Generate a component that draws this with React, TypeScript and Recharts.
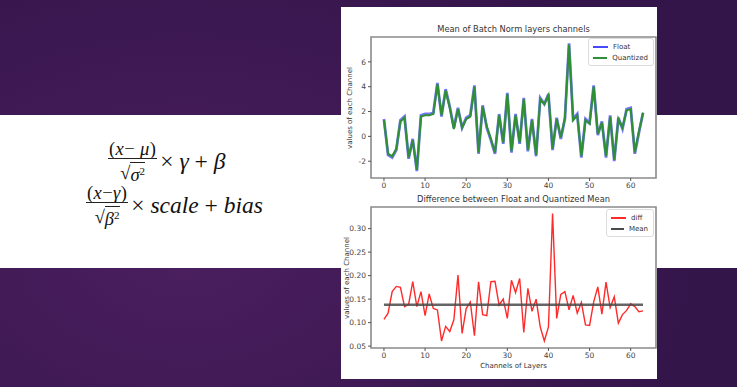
import { LineChart, Line, XAxis, YAxis, ReferenceArea, Legend } from "recharts";

// channel index 0..63
const channels = [
  0, 1, 2, 3, 4, 5, 6, 7, 8, 9, 10, 11, 12, 13, 14, 15, 16, 17, 18, 19, 20, 21, 22, 23, 24, 25, 26, 27, 28, 29, 30, 31,
  32, 33, 34, 35, 36, 37, 38, 39, 40, 41, 42, 43, 44, 45, 46, 47, 48, 49, 50, 51, 52, 53, 54, 55, 56, 57, 58, 59, 60, 61, 62, 63,
];

const floatMean = [
  1.4, -1.5, -1.7, -1.1, 1.3, 1.6, -1.8, -0.2, -2.8, 1.7, 1.8, 1.8, 1.9, 4.3, 1.6, 3.8, 2.4, 0.7, 2.3, 0.7, 1.5, 1.7, 4.1, -1.4,
  2.5, 0.7, -0.3, -1.4, 1.8, -0.6, 3.5, -1.3, 1.8, -0.6, 3.1, -1.2, 1.4, -1.6, 3.1, 2.6, 3.4, -1.1, 1.5, -0.2, 1.4, 7.5, 1.4, 1.8,
  -1.7, 1.4, 1.1, 4.1, 0.1, 1.2, -1.7, 1.7, -2.0, 1.5, 0.6, 2.2, 2.3, -1.4, 0.3, 1.9,
];

const quantizedMean = [
  1.3, -1.4, -1.6, -1.0, 1.2, 1.5, -1.7, -0.3, -2.7, 1.6, 1.7, 1.7, 1.8, 4.2, 1.7, 3.7, 2.3, 0.6, 2.2, 0.7, 1.4, 1.6, 4.0, -1.3,
  2.4, 0.8, -0.2, -1.3, 1.7, -0.5, 3.4, -1.2, 1.7, -0.5, 3.0, -1.1, 1.3, -1.5, 3.0, 2.6, 3.3, -1.0, 1.4, -0.1, 1.5, 7.4, 1.3, 1.7,
  -1.6, 1.3, 1.0, 4.0, 0.2, 1.1, -1.6, 1.6, -1.9, 1.4, 0.7, 2.1, 2.2, -1.3, 0.4, 1.9,
];

const diffMean = [
  0.107, 0.12, 0.166, 0.177, 0.175, 0.134, 0.139, 0.187, 0.134, 0.166, 0.115, 0.161, 0.13, 0.127, 0.061, 0.092, 0.081, 0.106,
  0.201, 0.077, 0.13, 0.144, 0.072, 0.187, 0.117, 0.115, 0.187, 0.188, 0.137, 0.15, 0.109, 0.19, 0.164, 0.194, 0.079, 0.173,
  0.124, 0.15, 0.091, 0.061, 0.091, 0.332, 0.109, 0.16, 0.166, 0.127, 0.158, 0.12, 0.143, 0.095, 0.094, 0.144, 0.176, 0.118,
  0.186, 0.132, 0.155, 0.099, 0.117, 0.126, 0.14, 0.134, 0.123, 0.125,
];

const overallMean = 0.138;

const xTicks = [0, 10, 20, 30, 40, 50, 60];
const topYTicks = [-2, 0, 2, 4, 6];
const bottomYTicks = [0.05, 0.1, 0.15, 0.2, 0.25, 0.3];
const legendOrder = ["Float", "Quantized", "diff", "Mean"];

const topData = channels.map((ch, i) => ({ ch, float: floatMean[i], quantized: quantizedMean[i] }));
const bottomData = channels.map((ch, i) => ({ ch, diff: diffMean[i] }));
const meanSegment = [
  { ch: channels[0], mean: overallMean },
  { ch: channels[channels.length - 1], mean: overallMean },
];

const FONT = "'DejaVu Sans', sans-serif";
const X_DOMAIN: [number, number] = [-3.15, 66.15];
const tickStyle = { fontSize: 7.5, fill: "#444", fontFamily: FONT };

function BoxLegend({ payload }: any) {
  const items = [...(payload || [])].sort((a: any, b: any) => legendOrder.indexOf(a.value) - legendOrder.indexOf(b.value));
  return (
    <div
      style={{
        background: "#fff",
        border: "1px solid #dcdcdc",
        borderRadius: 3,
        padding: "2px 5px 2px 4px",
        fontFamily: FONT,
        fontSize: 7,
        color: "#333",
      }}
    >
      {items.map((p: any) => (
        <div key={p.value} style={{ display: "flex", alignItems: "center", height: 11 }}>
          <span style={{ display: "inline-block", width: 15, height: 2, background: p.color, marginRight: 5 }} />
          {p.value}
        </div>
      ))}
    </div>
  );
}

function TopChart() {
  return (
    <LineChart width={318} height={195} data={topData} margin={{ top: 30, right: 3, left: 0, bottom: 4 }}>
      <XAxis
        type="number"
        dataKey="ch"
        domain={X_DOMAIN}
        ticks={xTicks}
        allowDataOverflow
        axisLine={false}
        tickSize={3}
        tickLine={{ stroke: "#555" }}
        tick={tickStyle}
        height={20}
      />
      <YAxis
        type="number"
        domain={[-3.35, 8]}
        ticks={topYTicks}
        allowDataOverflow
        axisLine={false}
        tickSize={3}
        tickLine={{ stroke: "#555" }}
        tick={tickStyle}
        width={30}
      />
      <ReferenceArea x1={X_DOMAIN[0]} x2={X_DOMAIN[1]} y1={-3.35} y2={8} fill="none" stroke="#8a8a8a" strokeWidth={1.6} />
      <Legend
        layout="vertical"
        align="center"
        verticalAlign="middle"
        content={BoxLegend}
        wrapperStyle={{ position: "absolute", top: 31, left: 247, width: 66 }}
      />
      <Line
        dataKey="float"
        name="Float"
        stroke="#4848ff"
        strokeWidth={2.8}
        strokeOpacity={0.75}
        dot={false}
        isAnimationActive={false}
      />
      <Line
        dataKey="quantized"
        name="Quantized"
        stroke="#2f8f35"
        strokeWidth={2.1}
        dot={false}
        isAnimationActive={false}
      />
    </LineChart>
  );
}

function BottomChart() {
  return (
    <LineChart width={318} height={200} data={bottomData} margin={{ top: 30, right: 3, left: 0, bottom: 9 }}>
      <XAxis
        type="number"
        dataKey="ch"
        domain={X_DOMAIN}
        ticks={xTicks}
        allowDataOverflow
        axisLine={false}
        tickSize={3}
        tickLine={{ stroke: "#555" }}
        tick={tickStyle}
        height={20}
      />
      <YAxis
        type="number"
        domain={[0.046, 0.346]}
        ticks={bottomYTicks}
        tickFormatter={(v: number) => v.toFixed(2)}
        allowDataOverflow
        axisLine={false}
        tickSize={3}
        tickLine={{ stroke: "#555" }}
        tick={tickStyle}
        width={30}
      />
      <ReferenceArea x1={X_DOMAIN[0]} x2={X_DOMAIN[1]} y1={0.046} y2={0.346} fill="none" stroke="#8a8a8a" strokeWidth={1.6} />
      <Legend
        layout="vertical"
        align="center"
        verticalAlign="middle"
        content={BoxLegend}
        wrapperStyle={{ position: "absolute", top: 32, left: 265, width: 48 }}
      />
      <Line
        dataKey="diff"
        name="diff"
        stroke="#ff2a2a"
        strokeWidth={1.4}
        dot={false}
        isAnimationActive={false}
      />
      <Line
        data={meanSegment}
        dataKey="mean"
        name="Mean"
        stroke="#4a4a4a"
        strokeWidth={2.4}
        strokeOpacity={0.85}
        dot={false}
        isAnimationActive={false}
      />
    </LineChart>
  );
}

const mathFont = "'Liberation Serif', 'DejaVu Serif', serif";

function Frac({ num, den }: { num: React.ReactNode; den: React.ReactNode }) {
  return (
    <span style={{ display: "inline-flex", flexDirection: "column", alignItems: "center", margin: "0 3px 0 0" }}>
      <span style={{ fontSize: 18.5, lineHeight: "18px", padding: "0 1px", letterSpacing: 0.4 }}>{num}</span>
      <span style={{ alignSelf: "stretch", height: 1.3, background: "#222" }} />
      <span style={{ fontSize: 18.5, lineHeight: "19px" }}>{den}</span>
    </span>
  );
}

function Root({ children }: { children: React.ReactNode }) {
  return (
    <span style={{ display: "inline-flex", alignItems: "flex-end" }}>
      <span>√</span>
      <span style={{ borderTop: "1.2px solid #222", lineHeight: "16px", marginTop: 3 }}>{children}</span>
    </span>
  );
}

const I = ({ children }: { children: React.ReactNode }) => <i>{children}</i>;

const formulaRow = {
  position: "absolute" as const,
  display: "flex",
  alignItems: "center",
  fontFamily: mathFont,
  color: "#111",
  fontSize: 23.5,
};

export default function App() {
  return (
    <div
      style={{
        position: "fixed",
        left: 0,
        top: 0,
        width: 737,
        height: 387,
        overflow: "hidden",
        background: "radial-gradient(ellipse 70% 90% at 25% 65%, #4b1f5f 0%, #3e1953 55%, #34154a 100%)",
      }}
    >
      {/* white band */}
      <div style={{ position: "absolute", left: 0, top: 115, width: 737, height: 153, background: "#fff" }} />

      {/* formulas */}
      <div style={{ ...formulaRow, left: 108, top: 140 }}>
        <Frac
          num={<>(<I>x</I>− <I>μ</I>)</>}
          den={<Root><I>σ</I><sup style={{ fontSize: 11, verticalAlign: "6px" }}>2</sup></Root>}
        />
        <span>× <I>γ</I> + <I>β</I></span>
      </div>
      <div style={{ ...formulaRow, left: 86, top: 184 }}>
        <Frac
          num={<>(<I>x</I>−<I>γ</I>)</>}
          den={<Root><I>β</I><sup style={{ fontSize: 11, verticalAlign: "6px" }}>2</sup></Root>}
        />
        <span>× <I>scale</I> + <I>bias</I></span>
      </div>

      {/* chart panel */}
      <div style={{ position: "absolute", left: 341, top: 7, width: 316, height: 372, background: "#fff", overflow: "hidden" }}>
        <div
          style={{
            position: "absolute",
            left: 0,
            top: 17,
            width: 318,
            textAlign: "center",
            paddingLeft: 27,
            boxSizing: "border-box",
            fontFamily: FONT,
            fontSize: 8.3,
            color: "#333",
          }}
        >
          Mean of Batch Norm layers channels
        </div>
        <div
          style={{
            position: "absolute",
            left: 9,
            top: 101,
            transform: "translate(-50%, -50%) rotate(-90deg)",
            whiteSpace: "nowrap",
            fontFamily: FONT,
            fontSize: 7,
            color: "#333",
          }}
        >
          values of each Channel
        </div>
        <div style={{ position: "absolute", left: 0, top: 0 }}>
          <TopChart />
        </div>

        <div
          style={{
            position: "absolute",
            left: 0,
            top: 187,
            width: 318,
            textAlign: "center",
            paddingLeft: 27,
            boxSizing: "border-box",
            fontFamily: FONT,
            fontSize: 8.3,
            color: "#333",
          }}
        >
          Difference between Float and Quantized Mean
        </div>
        <div
          style={{
            position: "absolute",
            left: 6,
            top: 271,
            transform: "translate(-50%, -50%) rotate(-90deg)",
            whiteSpace: "nowrap",
            fontFamily: FONT,
            fontSize: 7,
            color: "#333",
          }}
        >
          values of each Channel
        </div>
        <div style={{ position: "absolute", left: 0, top: 170 }}>
          <BottomChart />
        </div>
        <div
          style={{
            position: "absolute",
            left: 0,
            top: 355,
            width: 318,
            textAlign: "center",
            paddingLeft: 27,
            boxSizing: "border-box",
            fontFamily: FONT,
            fontSize: 7,
            color: "#333",
          }}
        >
          Channels of Layers
        </div>
      </div>
    </div>
  );
}
